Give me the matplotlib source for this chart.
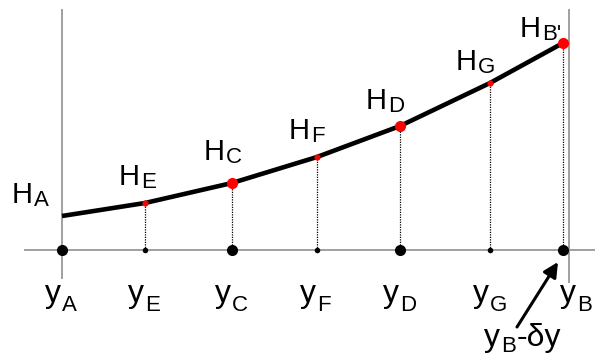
import matplotlib
matplotlib.use("Agg")
import matplotlib.pyplot as plt

plt.rcParams["font.family"] = ["Liberation Sans", "DejaVu Sans"]

# Stations along the channel and water-surface heights at each one
STATIONS = ["A", "E", "C", "F", "D", "G", "B'"]
X_POS    = [0, 83, 170, 255, 338, 428, 501]
HEIGHTS  = [34, 47, 67, 93, 124, 167, 207]
MAJOR    = [True, False, True, False, True, False, True]

# Bottom-axis labels
Y_SUBS   = ["A", "E", "C", "F", "D", "G"]
X_END    = 507            # position of section B
END_SUB  = "B"

AXIS_CLR = "#a0a0a0"
RED      = "#ff0000"


def sub_label(ax, x, y, main, sub, size, sub_size, drop, tail=None):
    """Draw main text with a subscript (and optional trailing text) at a baseline."""
    t = ax.text(x, y, main, fontsize=size, ha="left", va="baseline")
    s = ax.annotate(sub, xy=(1, y), xycoords=(t, "data"),
                    xytext=(0.8, -drop), textcoords="offset points",
                    fontsize=sub_size, ha="left", va="baseline")
    if tail:
        ax.annotate(tail, xy=(1, y), xycoords=(s, "data"),
                    xytext=(0.5, 0), textcoords="offset points",
                    fontsize=size, ha="left", va="baseline")


fig = plt.figure(figsize=(5.95, 3.58), dpi=100)
ax = fig.add_axes([0, 0, 1, 1])
ax.set_xlim(-62, 533)
ax.set_ylim(-108, 250)
ax.axis("off")

# reference lines
ax.plot([-37, 533], [0, 0], color=AXIS_CLR, lw=1.4, zorder=1)
ax.plot([0, 0], [-28, 240], color=AXIS_CLR, lw=1.4, zorder=1)
ax.plot([X_END, X_END], [-32, 240], color=AXIS_CLR, lw=1.4, zorder=1)

# dotted drops from the surface to the bed
for x, h in zip(X_POS[1:], HEIGHTS[1:]):
    ax.plot([x, x], [0, h], color="black", lw=0.9, ls=(0, (1, 1)), zorder=2)

# water surface profile
ax.plot(X_POS, HEIGHTS, color="black", lw=3.3, solid_capstyle="butt", zorder=3)

for x, h, big in zip(X_POS, HEIGHTS, MAJOR):
    if x > 0:
        ax.plot(x, h, "o", color=RED, ms=8 if big else 4.5, mec="none", zorder=4)
    ax.plot(x, 0, "o", color="black", ms=8 if big else 4, mec="none", zorder=4)

# surface labels H_x
h_offsets = [(-50, 13), (-26, 18), (-28, 23), (-28, 18), (-34, 17), (-34, 13), (-43, 6)]
for name, x, h, (dx, dy) in zip(STATIONS, X_POS, HEIGHTS, h_offsets):
    sub_label(ax, x + dx, h + dy, "H", name, 21, 16, 2.5)

# bed labels y_x
for name, x in zip(Y_SUBS, X_POS):
    sub_label(ax, x - 17, -52, "y", name, 23, 16, 6.5)
sub_label(ax, X_END - 9, -52, "y", END_SUB, 23, 16, 6.5)
sub_label(ax, X_POS[-1] - 79, -96, "y", END_SUB, 23, 16, 4.5, tail="-\u03b4y")

# arrow pointing at y_B - dy
ax.annotate("", xy=(X_POS[-1] - 5, -12), xytext=(X_POS[-1] - 46, -77),
            arrowprops=dict(arrowstyle="-|>", color="black", lw=2.2,
                            mutation_scale=22, shrinkA=0, shrinkB=0))

plt.savefig("out.png", dpi=100, facecolor="white")
plt.close()
